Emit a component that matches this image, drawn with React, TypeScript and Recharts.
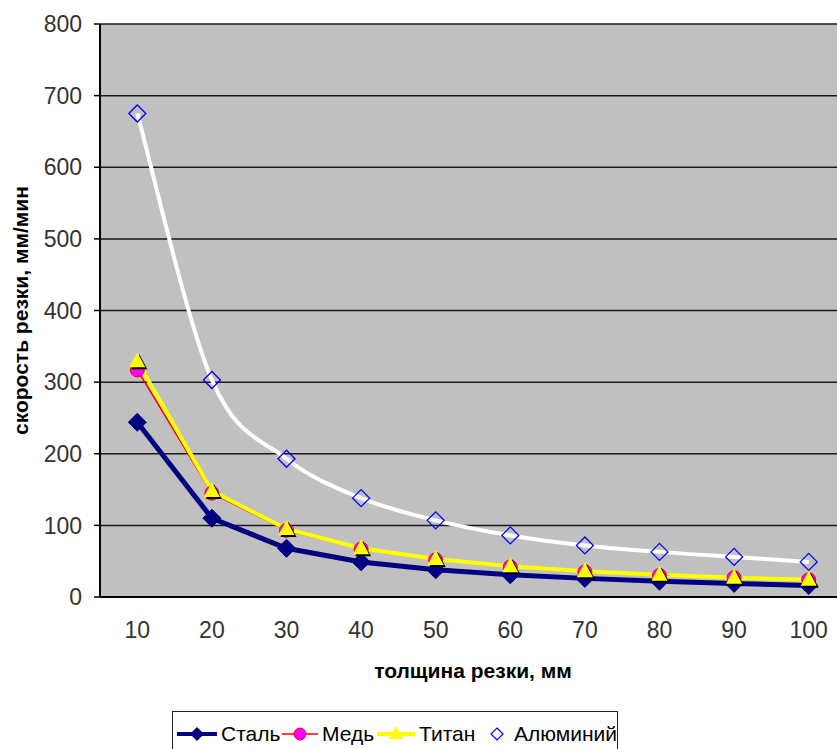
import React from "react";
import { LineChart, Line, XAxis, YAxis, CartesianGrid, Legend, Label } from "recharts";

// толщина резки, мм
const thickness = [10, 20, 30, 40, 50, 60, 70, 80, 90, 100];
// скорость резки, мм/мин
const steel = [244, 110, 68, 49, 38, 31, 26, 22, 19, 16];
const copper = [317, 145, 93, 67, 52, 42, 35, 30, 27, 24];
const titan = [329, 148, 95, 68, 53, 43, 36, 31, 27, 24];
const aluminium = [675, 303, 193, 138, 107, 86, 72, 63, 56, 49];

const xBounds = [5, 15, 25, 35, 45, 55, 65, 75, 85, 95, 105];
const yTicks = [0, 100, 200, 300, 400, 500, 600, 700, 800];

const seriesNames = ["Сталь", "Медь", "Титан", "Алюминий"];

const data = thickness.map((t, i) => ({
  t,
  steel: steel[i],
  copper: copper[i],
  titan: titan[i],
  aluminium: aluminium[i],
}));

const FONT = "'Liberation Sans', Arial, sans-serif";

// сглаживание как в Excel (Catmull-Rom -> Bezier)
function excelSmooth(context: any) {
  let pts: number[][] = [];
  return {
    areaStart() {},
    areaEnd() {},
    lineStart() {
      pts = [];
    },
    point(x: number, y: number) {
      pts.push([+x, +y]);
    },
    lineEnd() {
      if (!pts.length) return;
      context.moveTo(pts[0][0], pts[0][1]);
      for (let i = 0; i < pts.length - 1; i++) {
        const p0 = pts[i - 1] || pts[i];
        const p1 = pts[i];
        const p2 = pts[i + 1];
        const p3 = pts[i + 2] || pts[i + 1];
        context.bezierCurveTo(
          p1[0] + (p2[0] - p0[0]) / 6,
          p1[1] + (p2[1] - p0[1]) / 6,
          p2[0] - (p3[0] - p1[0]) / 6,
          p2[1] - (p3[1] - p1[1]) / 6,
          p2[0],
          p2[1]
        );
      }
    },
  };
}

function SteelDot(props: any) {
  const { cx, cy, index } = props;
  if (cx == null || cy == null) return null;
  const s = 9;
  return (
    <polygon
      key={`s-${index}`}
      points={`${cx},${cy - s} ${cx + s},${cy} ${cx},${cy + s} ${cx - s},${cy}`}
      fill="#000080"
      stroke="#000080"
    />
  );
}

function CopperDot(props: any) {
  const { cx, cy, index } = props;
  if (cx == null || cy == null) return null;
  return <circle key={`c-${index}`} cx={cx} cy={cy} r={7} fill="#FF00FF" stroke="#FF0000" strokeWidth={1} />;
}

function TitanDot(props: any) {
  const { cx, cy, index } = props;
  if (cx == null || cy == null) return null;
  const pts = (dx: number, dy: number) =>
    `${cx + dx},${cy - 9 + dy} ${cx + 8 + dx},${cy + 6 + dy} ${cx - 8 + dx},${cy + 6 + dy}`;
  return (
    <g key={`t-${index}`}>
      <polygon points={pts(2, 2)} fill="#000000" />
      <polygon points={pts(0, 0)} fill="#FFFF00" />
    </g>
  );
}

function AlDot(props: any) {
  const { cx, cy, index } = props;
  if (cx == null || cy == null) return null;
  const s = 8.5;
  return (
    <polygon
      key={`a-${index}`}
      points={`${cx},${cy - s} ${cx + s},${cy} ${cx},${cy + s} ${cx - s},${cy}`}
      fill="none"
      stroke="#0000FF"
      strokeWidth={1.3}
    />
  );
}

function LegendBox() {
  const sample = (w: number, line: React.ReactNode, mark: React.ReactNode) => (
    <svg width={w} height={20} style={{ display: "block" }}>
      {line}
      {mark}
    </svg>
  );
  const items = [
    {
      width: 105,
      icon: sample(
        40,
        <line x1={0} y1={10} x2={40} y2={10} stroke="#000080" strokeWidth={4} />,
        <polygon points="20,3 27,10 20,17 13,10" fill="#000080" />
      ),
    },
    {
      width: 95,
      icon: sample(
        36,
        <line x1={0} y1={10} x2={36} y2={10} stroke="#FF0000" strokeWidth={1.5} />,
        <circle cx={18} cy={10} r={6} fill="#FF00FF" stroke="#FF0000" />
      ),
    },
    {
      width: 100,
      icon: sample(
        38,
        <line x1={0} y1={10} x2={38} y2={10} stroke="#FFFF00" strokeWidth={4} />,
        <polygon points="19,2 26,15 12,15" fill="#FFFF00" />
      ),
    },
    {
      width: 140,
      icon: sample(
        40,
        null,
        <polygon points="20,4 26,10 20,16 14,10" fill="none" stroke="#0000FF" strokeWidth={1.2} />
      ),
    },
  ];
  return (
    <div
      style={{
        width: 446,
        height: 50,
        border: "1px solid #222",
        background: "#fff",
        display: "flex",
        alignItems: "flex-start",
        paddingTop: 10,
        paddingLeft: 4,
        boxSizing: "border-box",
        fontFamily: FONT,
        fontSize: 21,
        color: "#000",
      }}
    >
      {items.map((it, i) => (
        <div key={seriesNames[i]} style={{ width: it.width, display: "flex", alignItems: "center", gap: 4 }}>
          {it.icon}
          <span style={{ marginLeft: i === 3 ? 6 : 0 }}>{seriesNames[i]}</span>
        </div>
      ))}
    </div>
  );
}

export default function App() {
  return (
    <div
      style={{
        position: "absolute",
        left: 0,
        top: 0,
        width: 837,
        height: 749,
        overflow: "hidden",
        background: "#fff",
        fontFamily: FONT,
      }}
    >
      <LineChart width={860} height={749} data={data} margin={{ top: 24, right: 14, left: 0, bottom: 54 }}>
        <CartesianGrid xAxisId="bounds" fill="#C0C0C0" stroke="#1a1a1a" strokeWidth={1.5} />
        <XAxis
          xAxisId="bounds"
          type="number"
          dataKey="t"
          domain={[5, 105]}
          ticks={xBounds}
          interval={0}
          height={8}
          tick={false}
          tickSize={6}
          tickLine={{ stroke: "#000", strokeWidth: 1.5 }}
          axisLine={{ stroke: "#000", strokeWidth: 2 }}
        />
        <XAxis
          xAxisId="labels"
          type="number"
          dataKey="t"
          domain={[5, 105]}
          ticks={thickness}
          interval={0}
          height={90}
          axisLine={false}
          tickLine={false}
          tickSize={0}
          tickMargin={17}
          tick={{ fontSize: 23, fill: "#333", fontFamily: FONT }}
        >
          <Label
            content={({ viewBox }: any) => (
              <text
                x={viewBox.x + viewBox.width / 2}
                y={678}
                textAnchor="middle"
                fontSize={21}
                fontWeight="bold"
                fontFamily={FONT}
                fill="#000"
              >
                толщина резки, мм
              </text>
            )}
          />
        </XAxis>
        <YAxis
          type="number"
          domain={[0, 800]}
          ticks={yTicks}
          interval={0}
          width={100}
          tickSize={6}
          tickMargin={12}
          tickLine={{ stroke: "#000", strokeWidth: 1.5 }}
          axisLine={{ stroke: "#000", strokeWidth: 2 }}
          tick={{ fontSize: 23, fill: "#333", fontFamily: FONT }}
        >
          <Label
            content={({ viewBox }: any) => {
              const x = viewBox.x + 28;
              const y = viewBox.y + viewBox.height / 2;
              return (
                <text
                  x={x}
                  y={y}
                  transform={`rotate(-90 ${x} ${y})`}
                  textAnchor="middle"
                  fontSize={21}
                  fontWeight="bold"
                  fontFamily={FONT}
                  fill="#000"
                >
                  скорость резки, мм/мин
                </text>
              );
            }}
          />
        </YAxis>
        <Legend
          layout="horizontal"
          verticalAlign="middle"
          align="center"
          wrapperStyle={{ top: 711, left: 172, width: 446, height: 50 }}
          content={() => <LegendBox />}
        />
        <Line
          xAxisId="labels"
          type="linear"
          dataKey="steel"
          name={seriesNames[0]}
          stroke="#000080"
          strokeWidth={5}
          dot={SteelDot}
          activeDot={false}
          isAnimationActive={false}
        />
        <Line
          xAxisId="labels"
          type="linear"
          dataKey="copper"
          name={seriesNames[1]}
          stroke="#FF0000"
          strokeWidth={1.5}
          dot={CopperDot}
          activeDot={false}
          isAnimationActive={false}
        />
        <Line
          xAxisId="labels"
          type="linear"
          dataKey="titan"
          name={seriesNames[2]}
          stroke="#FFFF00"
          strokeWidth={4}
          dot={TitanDot}
          activeDot={false}
          isAnimationActive={false}
        />
        <Line
          xAxisId="labels"
          type={excelSmooth as any}
          dataKey="aluminium"
          name={seriesNames[3]}
          stroke="#FFFFFF"
          strokeWidth={4}
          dot={AlDot}
          activeDot={false}
          isAnimationActive={false}
        />
      </LineChart>
    </div>
  );
}
